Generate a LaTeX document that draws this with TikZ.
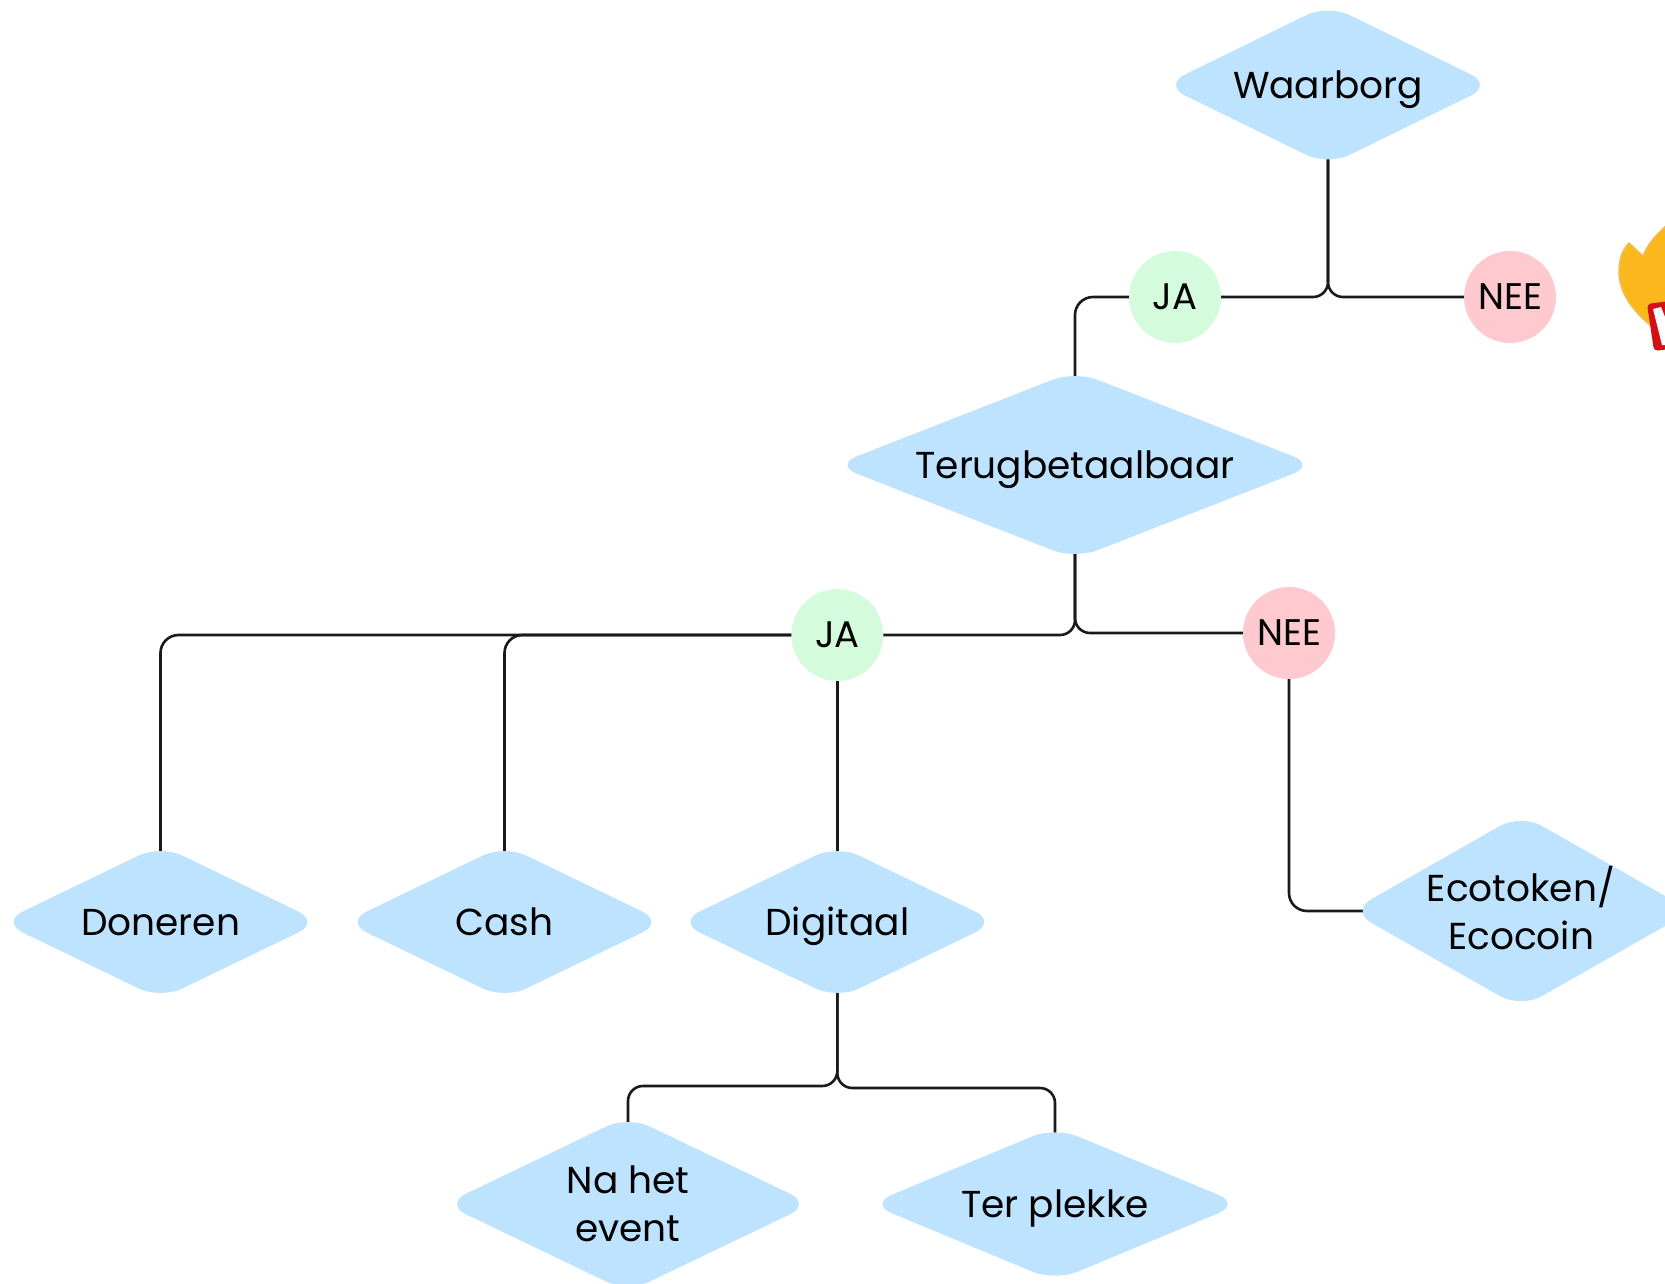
\documentclass[tikz,border=0pt]{standalone}
\usepackage{fontspec}
\setmainfont{Poppins}
\usetikzlibrary{shapes.geometric,backgrounds}
\definecolor{dia}{HTML}{BDE3FF}
\definecolor{yes}{HTML}{D4FBDC}
\definecolor{no}{HTML}{FFC9D0}
\definecolor{ink}{HTML}{1A1A1A}
\newcommand{\dlab}[1]{\makebox[0pt][c]{\smash{\raisebox{-.27em}{\begin{tabular}[c]{@{}c@{}}#1\end{tabular}}}}}
\tikzset{
  choice/.style n args={2}{shape=diamond,fill=dia,rounded corners=24pt,inner sep=0pt,outer sep=0pt,
    minimum width=#1 pt,minimum height=#2 pt,align=center,text=black,
    font=\fontsize{37.5}{48}\selectfont},
  bubble/.style={shape=circle,inner sep=0pt,outer sep=0pt,minimum size=92pt,text=black,
    font=\fontsize{37}{44}\selectfont},
  yesbub/.style={bubble,fill=yes},
  nobub/.style={bubble,fill=no},
  link/.style={draw=ink,line width=2.6pt,rounded corners=18pt,shorten <=-8pt,shorten >=-16pt},
  fork/.style={draw=ink,line width=2.6pt,rounded corners=15pt,shorten <=-8pt,shorten >=-8pt}
}
\begin{document}
\begin{tikzpicture}[x=1pt,y=-1pt]
\useasboundingbox (0,0) rectangle (1665,1284);
\clip (0,0) rectangle (1665,1284);
\node[choice={329}{161}] (W) at (1328,85) {\dlab{Waarborg}};
\node[choice={481}{188}] (T) at (1075,465) {\dlab{Terugbetaalbaar}};
\node[choice={319}{154}] (D) at (160.5,922) {\dlab{Doneren}};
\node[choice={319}{154}] (C) at (504.5,922) {\dlab{Cash}};
\node[choice={319}{154}] (G) at (837.3,922) {\dlab{Digitaal}};
\node[choice={341}{194}] (E) at (1521,911) {\dlab{Ecotoken/\\Ecocoin}};
\node[choice={367}{176}] (N) at (628,1204) {\dlab{Na het\\event}};
\node[choice={371}{154}] (P) at (1055,1204) {\dlab{Ter plekke}};
\node[yesbub] (J1) at (1175,297) {JA};
\node[nobub] (N1) at (1510,297) {NEE};
\node[yesbub] (J2) at (837.3,635) {JA};
\node[nobub] (N2) at (1289,633) {NEE};
\coordinate (fl) at (628,1086);
\coordinate (fr) at (1055,1088);
\begin{scope}[on background layer]
\draw[fork] (W.south) |- (J1.east);
\draw[fork] (W.south) |- (N1.west);
\draw[link] (J1.west) -| (T.north);
\draw[fork] (T.south) |- (J2.east);
\draw[fork] (T.south) |- (N2.west);
\draw[link] (J2.west) -| (D.north);
\draw[link] (J2.west) -| (C.north);
\draw[link] (J2.south) -- (G.north);
\draw[link] (N2.south) |- (E.west);
\draw[fork] (G.south) |- (fl) -- (N.north);
\draw[fork] (G.south) |- (fr) -- (P.north);
\end{scope}
% partly visible flame emoji at the right edge
\fill[color={rgb,255:red,251;green,184;blue,28},draw={rgb,255:red,240;green,190;blue,80},line width=1.5pt,line join=round]
  (1629,243) -- (1643,256) .. controls (1648,243) and (1657,234) .. (1668,224)
  -- (1668,340) -- (1650,325) .. controls (1632,310) and (1619,292) .. (1619,272)
  .. controls (1619,260) and (1622,250) .. (1629,243) -- cycle;
\fill[color={rgb,255:red,214;green,14;blue,24},rounded corners=4pt]
  (1647,304) -- (1670,301) -- (1670,349) -- (1654,351) -- cycle;
\fill[white] (1653,309) -- (1661,307) -- (1667,322) -- (1667,345) -- (1662,345) -- cycle;
\end{tikzpicture}
\end{document}
